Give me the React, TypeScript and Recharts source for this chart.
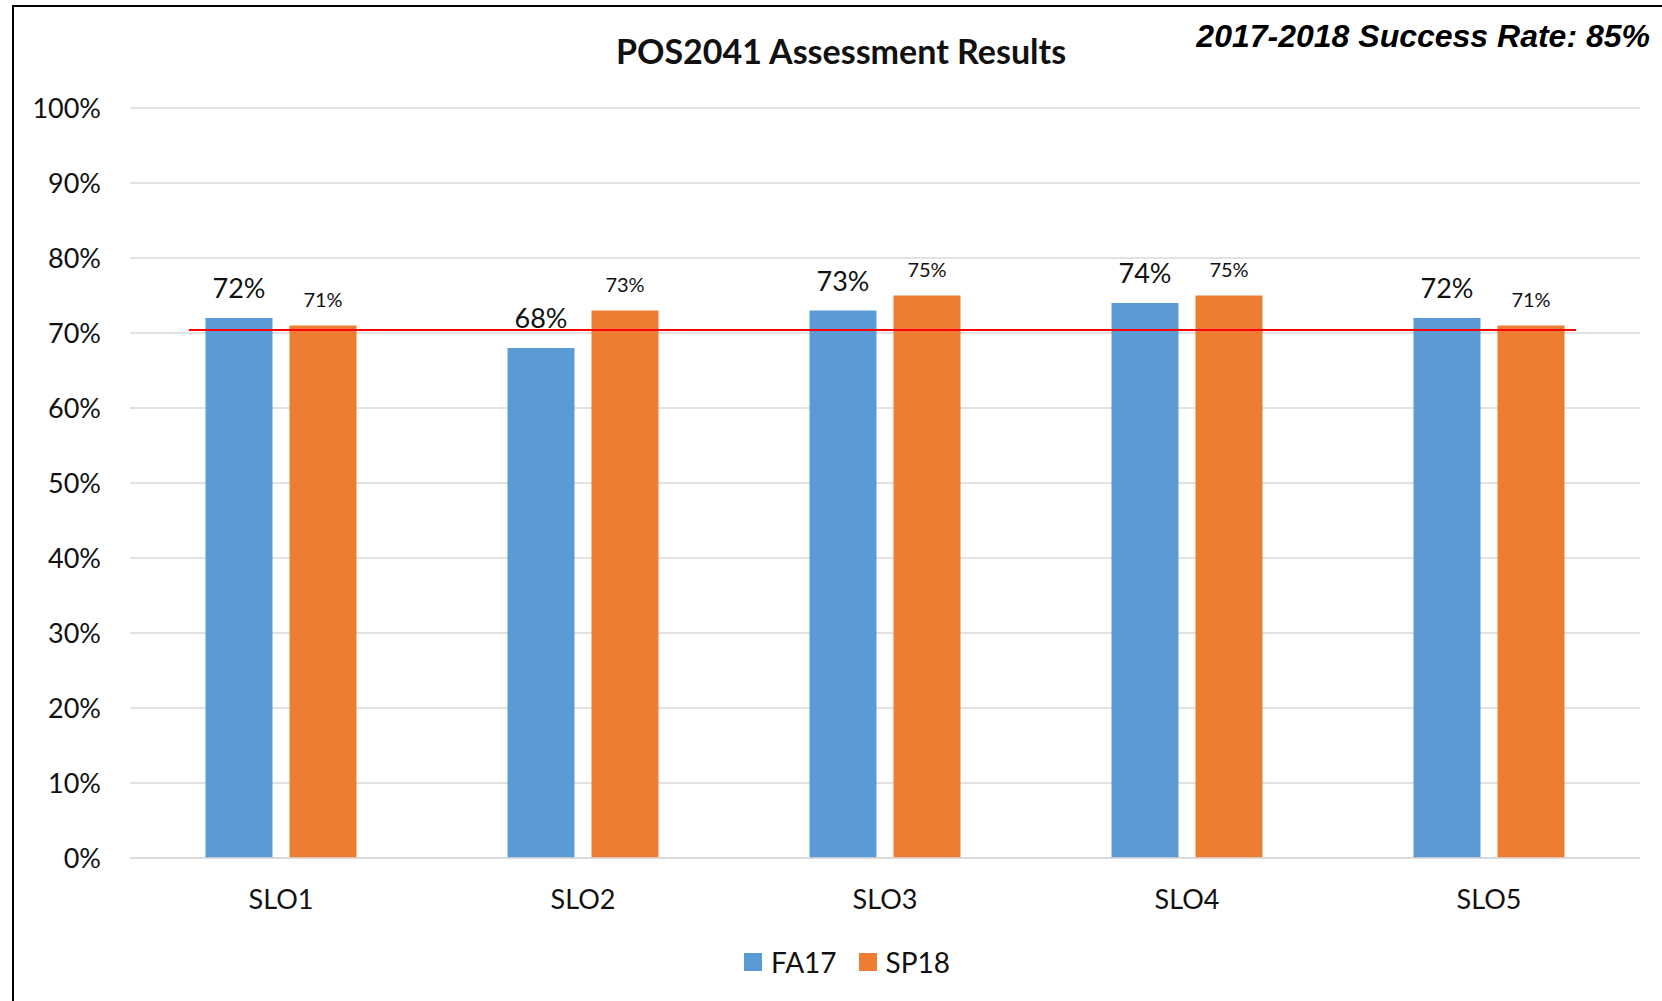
import { BarChart, Bar, XAxis, YAxis, CartesianGrid, Legend, LabelList, ReferenceLine } from "recharts";

const slos = ["SLO1", "SLO2", "SLO3", "SLO4", "SLO5"];
const fa17 = [72, 68, 73, 74, 72];
const sp18 = [71, 73, 75, 75, 71];
const yTicks = [0, 10, 20, 30, 40, 50, 60, 70, 80, 90, 100];

// red target line, on a hidden numeric axis (category i sits at x = i) so it can stop short of the edges
const targetValue = 70.4;
const targetFrom = -0.305;
const targetTo = 4.288;

const data = slos.map((slo, i) => ({ slo, FA17: fa17[i], SP18: sp18[i], idx: i }));

const BLUE = "#5B9BD5";
const ORANGE = "#ED7D31";
const FONT = "Lato, 'Open Sans', sans-serif";

const LegendContent = ({ payload }: any) => (
  <div style={{ display: "flex", justifyContent: "center", alignItems: "center", paddingLeft: 24, fontFamily: FONT, fontSize: 28, color: "#111" }}>
    {(payload || []).map((p: any, i: number) => (
      <div key={p.value} style={{ display: "flex", alignItems: "center", marginLeft: i ? 22 : 0 }}>
        <span style={{ display: "inline-block", width: 18, height: 18, background: p.color, marginRight: 9 }} />
        <span>{p.value}</span>
      </div>
    ))}
  </div>
);

export default function App() {
  return (
    <div style={{ position: "absolute", left: 0, top: 0, width: 1662, height: 1001, background: "#fff", overflow: "hidden" }}>
      <div style={{ position: "absolute", left: 12, top: 5, width: 1700, height: 1100, borderLeft: "2px solid #000", borderTop: "2px solid #000" }} />
      <div style={{ position: "absolute", left: 0, top: 0 }}>
        <BarChart
          width={1662}
          height={1001}
          data={data}
          margin={{ top: 108, right: 22, left: 30, bottom: 108 }}
          barCategoryGap="25%"
          barGap={17}
        >
          <CartesianGrid vertical={false} stroke="#D9D9D9" strokeWidth={1.5} />
          <XAxis
            dataKey="slo"
            axisLine={{ stroke: "#D9D9D9", strokeWidth: 1.5 }}
            tickLine={false}
            tickSize={0}
            tickMargin={32}
            height={1}
            tick={{ fontSize: 27, fill: "#111", fontFamily: FONT }}
          />
          <XAxis xAxisId="ref" dataKey="idx" type="number" domain={[-0.5, 4.5]} allowDataOverflow hide />
          <YAxis
            width={100}
            domain={[0, 100]}
            ticks={yTicks}
            interval={0}
            axisLine={false}
            tickLine={false}
            tickSize={0}
            tickMargin={29}
            tickFormatter={(v) => `${v}%`}
            tick={{ fontSize: 27, fill: "#111", fontFamily: FONT }}
          />
          <Legend content={<LegendContent />} verticalAlign="bottom" wrapperStyle={{ bottom: 22 }} />
          <Bar dataKey="FA17" fill={BLUE} isAnimationActive={false}>
            <LabelList dataKey="FA17" position="top" offset={20} formatter={(v: any) => `${v}%`} style={{ fontSize: 27, fill: "#111", fontFamily: FONT }} />
          </Bar>
          <Bar dataKey="SP18" fill={ORANGE} isAnimationActive={false}>
            <LabelList dataKey="SP18" position="top" offset={19} formatter={(v: any) => `${v}%`} style={{ fontSize: 20, fill: "#111", fontFamily: FONT }} />
          </Bar>
          <ReferenceLine
            xAxisId="ref"
            segment={[{ x: targetFrom, y: targetValue }, { x: targetTo, y: targetValue }]}
            stroke="#FF0000"
            strokeWidth={2}
            ifOverflow="visible"
          />
        </BarChart>
      </div>
      <div style={{ position: "absolute", left: 0, width: 1682, top: 30, textAlign: "center", fontFamily: FONT, fontWeight: 700, fontSize: 34, color: "#111", lineHeight: "42px" }}>
        POS2041 Assessment Results
      </div>
      <div style={{ position: "absolute", right: 12, top: 18, fontFamily: "'Liberation Sans', Arial, sans-serif", fontWeight: 700, fontStyle: "italic", fontSize: 32, color: "#000", lineHeight: "36px" }}>
        2017-2018 Success Rate: 85%
      </div>
    </div>
  );
}
